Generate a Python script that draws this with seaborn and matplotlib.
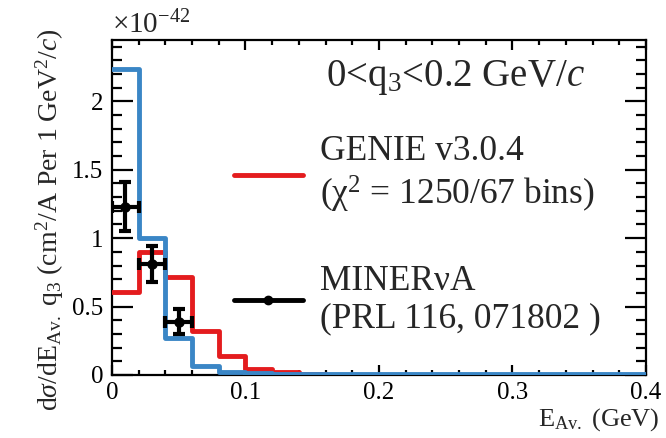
import numpy as np
import pandas as pd
import matplotlib
matplotlib.use("Agg")
import matplotlib.pyplot as plt
from matplotlib.lines import Line2D
from matplotlib.ticker import MultipleLocator
import seaborn as sns

# Binning in E_Av. (GeV): 20 bins of 0.02 GeV from 0 to 0.4
bin_width = 0.02
bin_range = (0.0, 0.4)
bin_centers = np.arange(0.01, 0.4, 0.02)

# Cross sections in units of 1e-42 cm^2/A per GeV^2/c
genie_v304 = [0.61, 0.90, 0.715, 0.32, 0.135, 0.042, 0.025, 0.009, 0.003, 0.002,
              0.0, 0.0, 0.0, 0.0, 0.0, 0.0, 0.0, 0.0, 0.0, 0.0]
other_model = [2.24, 1.00, 0.27, 0.068, 0.025, 0.012, 0.008, 0.008, 0.008, 0.008,
               0.008, 0.008, 0.008, 0.008, 0.008, 0.008, 0.008, 0.008, 0.008, 0.008]

# MINERvA data points
data_x = [0.01, 0.03, 0.05]
data_y = [1.23, 0.81, 0.39]
data_xerr = [0.01, 0.01, 0.01]
data_yerr = [0.18, 0.13, 0.09]

sns.set_theme(style="ticks")
plt.rcParams["font.family"] = ["Liberation Serif", "DejaVu Serif"]
plt.rcParams["mathtext.fontset"] = "custom"
plt.rcParams["mathtext.rm"] = "Liberation Serif"
plt.rcParams["mathtext.it"] = "Liberation Serif:italic"
plt.rcParams["mathtext.bf"] = "Liberation Serif:bold"

RED = "#e41c1e"
BLUE = "#3a86c6"

fig = plt.figure(figsize=(6.66, 4.38), dpi=100)
ax = fig.add_axes([0.168, 0.144, 0.802, 0.765])

df = pd.DataFrame({"E": bin_centers, "genie": genie_v304, "other": other_model})

sns.histplot(data=df, x="E", weights="genie", binwidth=bin_width, binrange=bin_range,
             element="step", fill=False, color=RED, linewidth=3.5, zorder=3, ax=ax)
sns.histplot(data=df, x="E", weights="other", binwidth=bin_width, binrange=bin_range,
             element="step", fill=False, color=BLUE, linewidth=3.5, zorder=3.1, ax=ax)

ax.errorbar(data_x, data_y, xerr=data_xerr, yerr=data_yerr, fmt="o", color="black",
            markersize=6.5, elinewidth=3, capsize=4.5, capthick=3, zorder=5)

ax.set_xlim(0, 0.4)
ax.set_ylim(0, 2.45)

ax.xaxis.set_minor_locator(MultipleLocator(0.02))
ax.yaxis.set_minor_locator(MultipleLocator(0.1))
ax.set_xticks([0, 0.1, 0.2, 0.3, 0.4])
ax.set_xticklabels(["0", "0.1", "0.2", "0.3", "0.4"])
ax.set_yticks([0, 0.5, 1, 1.5, 2])
ax.set_yticklabels(["0", "0.5", "1", "1.5", "2"])

for s in ax.spines.values():
    s.set_linewidth(1.6)
    s.set_color("black")
    s.set_visible(True)

ax.tick_params(axis="both", which="both", direction="in", top=True, right=True,
               colors="black", labelsize=18, width=1.6)
ax.tick_params(axis="x", which="major", length=7, pad=5)
ax.tick_params(axis="x", which="minor", length=3.6)
ax.tick_params(axis="y", which="major", length=15, pad=6)
ax.tick_params(axis="y", which="minor", length=7.5)

ax.set_xlabel(r"E$_{\rm Av.}$ (GeV)", fontsize=19, loc="right")
ax.xaxis.set_label_coords(1.026, -0.092)
ax.set_ylabel(r"d$\sigma$/dE$_{\rm Av.}$ q$_{3}$ (cm$^{2}$/A Per 1 GeV$^{2}$/$c$)",
              fontsize=20, loc="top")
ax.yaxis.set_label_coords(-0.085, 1.036)

ax.text(0.0, 1.021, r"$\times$10$^{-42}$", transform=ax.transAxes, fontsize=21,
        ha="left", va="baseline")

ax.text(0.886, 0.861, r"0<q$_{3}$<0.2 GeV/$c$", transform=ax.transAxes, fontsize=28,
        ha="right", va="baseline")

handles = [
    Line2D([], [], color=RED, linewidth=3.5),
    Line2D([], [], color="black", linewidth=3.5, marker="o", markersize=6),
]
labels = ["GENIE v3.0.4\n" + "(χ$^{2}$ = 1250/67 bins)",
          "MINERνA\n(PRL 116, 071802 )"]
leg = ax.legend(handles, labels, loc="center left", bbox_to_anchor=(0.2285, 0.417),
                frameon=False, fontsize=25.5, handlelength=1.95, labelspacing=1.4,
                handletextpad=0.48, borderpad=0, borderaxespad=0)

fig.savefig("out.png", dpi=100)
